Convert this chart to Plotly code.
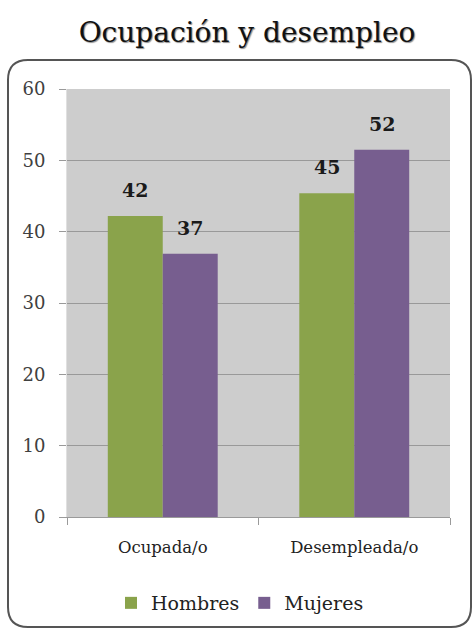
import plotly.graph_objects as go

categories = ["Ocupada/o", "Desempleada/o"]
hombres = [42.2, 45.4]
mujeres = [36.9, 51.5]
hombres_labels = ["42", "45"]
mujeres_labels = ["37", "52"]
y_ticks = [0, 10, 20, 30, 40, 50, 60]

W, H = 472, 637
L, R, T, B = 67, 22, 89, 120
pw, ph = W - L - R, H - T - B

def px(x):
    return (x - L) / pw

def py(y):
    return (H - B - y) / ph

SERIF = "DejaVu Serif"

fig = go.Figure()
fig.add_trace(go.Bar(x=categories, y=hombres, name="Hombres", marker=dict(color="#8AA34B", line=dict(width=0))))
fig.add_trace(go.Bar(x=categories, y=mujeres, name="Mujeres", marker=dict(color="#775E8F", line=dict(width=0))))

ann = []
for i, c in enumerate(categories):
    ann.append(dict(x=c, y=hombres[i], text=hombres_labels[i], xref="x", yref="y", showarrow=False,
                    xshift=-27.5, yshift=26, font=dict(family=SERIF, size=19, color="#1a1a1a", weight="bold")))
    ann.append(dict(x=c, y=mujeres[i], text=mujeres_labels[i], xref="x", yref="y", showarrow=False,
                    xshift=27.5, yshift=26, font=dict(family=SERIF, size=19, color="#1a1a1a", weight="bold")))

# rounded border box
x0, x1, y0, y1, r = 8, 471, 60, 627, 20
path = (f"M {px(x0+r)},{py(y0)} L {px(x1-r)},{py(y0)} Q {px(x1)},{py(y0)} {px(x1)},{py(y0+r)} "
        f"L {px(x1)},{py(y1-r)} Q {px(x1)},{py(y1)} {px(x1-r)},{py(y1)} "
        f"L {px(x0+r)},{py(y1)} Q {px(x0)},{py(y1)} {px(x0)},{py(y1-r)} "
        f"L {px(x0)},{py(y0+r)} Q {px(x0)},{py(y0)} {px(x0+r)},{py(y0)} Z")

fig.update_layout(
    width=W, height=H,
    margin=dict(l=L, r=R, t=T, b=B),
    font=dict(family=SERIF, color="#222222"),
    paper_bgcolor="white", plot_bgcolor="#CDCDCD",
    barmode="group", bargap=0.426, bargroupgap=0,
    title=dict(text="Ocupación y desempleo", x=247 / W, xanchor="center", y=1 - 32 / H, yanchor="middle",
               font=dict(family=SERIF, size=28, color="#111111", shadow="1px 1px 1px rgba(0,0,0,0.45)")),
    showlegend=True,
    legend=dict(orientation="h", x=px(240), xanchor="center", y=py(603), yanchor="middle",
                font=dict(family=SERIF, size=19, color="#222222"), itemwidth=30, traceorder="normal"),
    annotations=ann,
    shapes=[dict(type="path", path=path, xref="paper", yref="paper", line=dict(color="#555555", width=2),
                 fillcolor="rgba(0,0,0,0)", layer="above")],
    xaxis=dict(showgrid=False, showline=True, linecolor="#9a9a9a", linewidth=1, ticks="outside",
               tickson="boundaries", ticklen=7, tickcolor="#9a9a9a",
               tickfont=dict(family=SERIF, size=16.5, color="#222222"), ticklabelstandoff=15),
    yaxis=dict(range=[0, 60], tickvals=y_ticks, showgrid=True, gridcolor="#999999", gridwidth=1,
               showline=True, linecolor="#e0e0e0", linewidth=1, ticks="outside", ticklen=7, tickcolor="#9a9a9a",
               tickfont=dict(family=SERIF, size=18, color="#404040"), zeroline=False, ticklabelstandoff=10),
)

fig.write_html("out.html")
